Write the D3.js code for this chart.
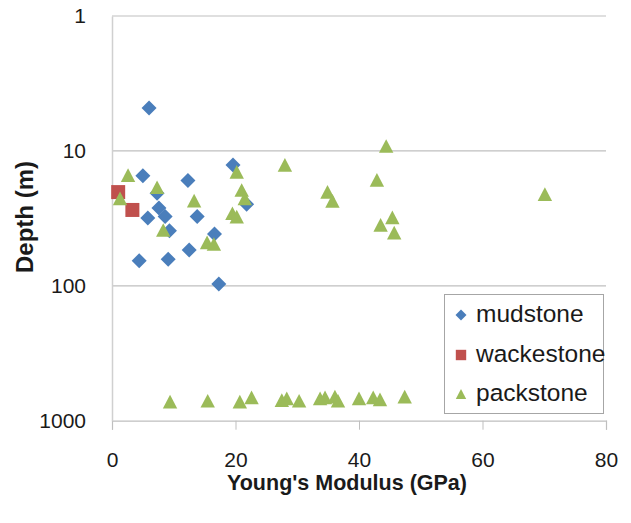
<!DOCTYPE html>
<html>
<head>
<meta charset="utf-8">
<script src="https://cdn.jsdelivr.net/npm/d3@7"></script>
<style>
  html, body { margin: 0; padding: 0; background: #fff; }
  svg { display: block; }
  text { font-family: "Liberation Sans", Arial, sans-serif; fill: #1a1a1a; }
</style>
</head>
<body>
<svg id="chart" width="631" height="523"></svg>
<script>
// ---- data ----
const xTicks = [0, 20, 40, 60, 80];
const yTicks = [1, 10, 100, 1000];
const seriesNames = ["mudstone", "wackestone", "packstone"];

const mudstoneX = [6.0, 5.0, 19.6, 12.3, 7.3, 7.6, 5.8, 8.6, 13.8, 9.3, 21.8, 16.6, 4.4, 9.1, 12.5, 17.3];
const mudstoneDepth = [4.8, 15.3, 12.7, 16.6, 20.6, 26.5, 31.5, 30.7, 30.7, 39.1, 24.9, 41.3, 65.2, 63.6, 54.3, 97];

const wackestoneX = [1.0, 3.3];
const wackestoneDepth = [20.2, 27.4];

const packstoneX = [2.6, 7.3, 1.3, 13.3, 8.3, 20.2, 21.0, 21.5, 19.5, 20.2, 15.4, 16.5,
  44.4, 28.0, 42.9, 34.9, 35.7, 70.1, 45.4, 43.5, 45.7,
  9.4, 15.5, 20.7, 22.6, 27.5, 28.3, 30.3, 33.7, 34.5, 36.1, 36.6, 40.0, 42.3, 43.4, 47.4];
const packstoneDepth = [15.1, 18.6, 22.5, 23.4, 38.6, 14.3, 19.5, 22.5, 29.0, 30.7, 47.6, 49,
  9.2, 12.7, 16.4, 20.1, 23.5, 20.9, 31.1, 35.4, 40.4,
  723, 711, 723, 671, 703, 683, 711, 683, 671, 664, 711, 683, 671, 694, 664];

// ---- layout ----
const plotLeft = 112, plotTop = 16, plotRight = 606, plotBottom = 420.7;
const svg = d3.select("#chart");

const x = d3.scaleLinear().domain([0, 80]).range([plotLeft, plotRight]);
const y = d3.scaleLog().domain([1, 1000]).range([plotTop, plotBottom]);

const colors = { mudstone: "#4a7ebb", wackestone: "#c0504d", packstone: "#9bbb59" };

function diamond(r) { return `M0,${-r}L${r},0L0,${r}L${-r},0Z`; }
function square(r) { return `M${-r},${-r}H${r}V${r}H${-r}Z`; }
function triangle(r) { const h = r * 0.95; return `M0,${-h}L${r},${h}L${-r},${h}Z`; }
const shapes = { mudstone: diamond, wackestone: square, packstone: triangle };
const sizes = { mudstone: 7.5, wackestone: 7, packstone: 7.2 };

// gridlines
svg.append("g").selectAll("line").data(yTicks.slice(0, 3)).join("line")
  .attr("x1", plotLeft).attr("x2", plotRight)
  .attr("y1", d => y(d)).attr("y2", d => y(d))
  .attr("stroke", "#bfbfbf").attr("stroke-width", 1.2);

// axes
const xAxis = svg.append("g").attr("transform", `translate(0,${plotBottom})`)
  .call(d3.axisBottom(x).tickValues(xTicks).tickSize(9).tickPadding(22).tickFormat(d3.format("d")));
xAxis.select(".domain").attr("stroke", "#bfbfbf").attr("stroke-width", 1.2);
xAxis.selectAll(".tick line").attr("stroke", "#bfbfbf");
xAxis.selectAll("text").attr("font-size", 21).attr("fill", "#1a1a1a")
  .attr("font-family", "Liberation Sans, Arial, sans-serif");

const yAxis = svg.append("g").attr("transform", `translate(${plotLeft},0)`)
  .call(d3.axisLeft(y).tickValues(yTicks).tickSize(0).tickPadding(26).tickFormat(d3.format("d")));
yAxis.select(".domain").attr("stroke", "#d0d0d0").attr("stroke-width", 1.5);
yAxis.selectAll("text").attr("font-size", 21).attr("fill", "#1a1a1a")
  .attr("font-family", "Liberation Sans, Arial, sans-serif");

// axis titles
svg.append("text").attr("x", 347).attr("y", 490).attr("text-anchor", "middle")
  .attr("font-size", 21.5).attr("font-weight", "bold").text("Young's Modulus (GPa)");
svg.append("text").attr("transform", "translate(33,217) rotate(-90)").attr("text-anchor", "middle")
  .attr("font-size", 24).attr("font-weight", "bold").text("Depth (m)");

// points
const series = [
  { name: "mudstone", xs: mudstoneX, ys: mudstoneDepth },
  { name: "wackestone", xs: wackestoneX, ys: wackestoneDepth },
  { name: "packstone", xs: packstoneX, ys: packstoneDepth }
];
series.forEach(s => {
  const pts = s.xs.map((v, i) => ({ x: v, y: s.ys[i] }));
  svg.append("g").selectAll("path").data(pts).join("path")
    .attr("transform", d => `translate(${x(d.x)},${y(d.y)})`)
    .attr("d", shapes[s.name](sizes[s.name]))
    .attr("fill", colors[s.name]);
});

// legend
const lg = svg.append("g");
lg.append("rect").attr("x", 444.5).attr("y", 294.5).attr("width", 159).attr("height", 119)
  .attr("fill", "#fff").attr("stroke", "#a6a6a6").attr("stroke-width", 1);
const rowsY = [314, 354, 393];
seriesNames.forEach((n, i) => {
  lg.append("path").attr("transform", `translate(461,${rowsY[i] + 1})`)
    .attr("d", shapes[n](n === "mudstone" ? 5.5 : 5.2)).attr("fill", colors[n]);
  lg.append("text").attr("x", 476).attr("y", rowsY[i] + 8).attr("font-size", 24.5).text(n);
});
</script>
</body>
</html>
